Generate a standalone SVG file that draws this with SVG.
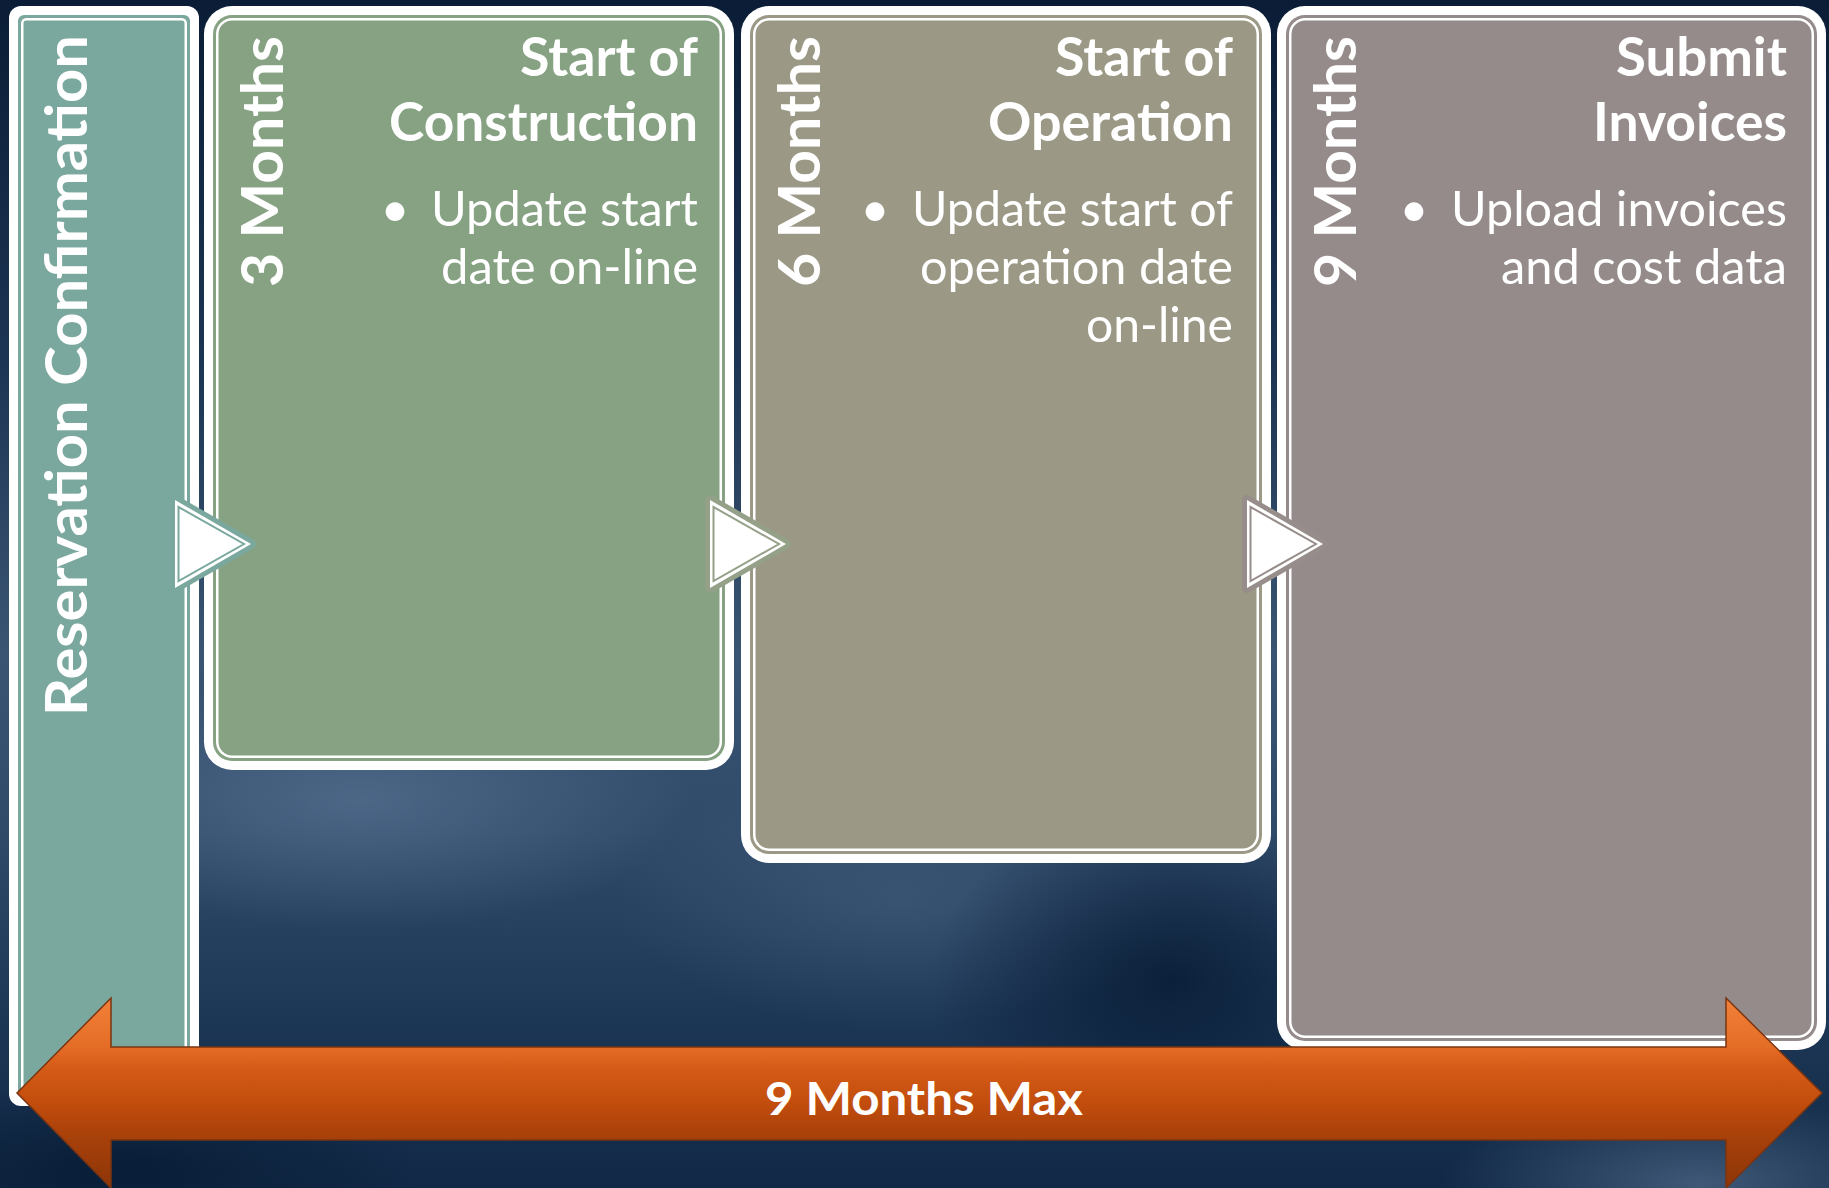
<svg xmlns="http://www.w3.org/2000/svg" width="1829" height="1188" viewBox="0 0 1829 1188">
<defs>
<style>
.vt{font-family:Lato,"Open Sans",sans-serif;font-weight:700;font-size:58px;fill:#fff}
.tt{font-family:Lato,"Open Sans",sans-serif;font-weight:700;font-size:53px;fill:#fff;text-anchor:end}
.bt{font-family:Lato,"Open Sans",sans-serif;font-weight:400;font-size:48px;fill:#fff;text-anchor:end}
.bu{font-family:Lato,"Open Sans",sans-serif;font-weight:400;font-size:50px;fill:#fff;text-anchor:middle}
.mt{font-family:Lato,"Open Sans",sans-serif;font-weight:700;font-size:46px;fill:#fff;text-anchor:middle}
.outer{fill:#fff}
.line{fill:none;stroke:#fff;stroke-width:2.5}
.tri{fill:#fff;stroke-width:10;stroke-linejoin:round}
.triin{fill:none;stroke-width:2}
</style>
<linearGradient id="bg" x1="0" y1="0" x2="0" y2="1">
<stop offset="0" stop-color="#0b1d36"/>
<stop offset="0.3" stop-color="#1c3453"/>
<stop offset="0.55" stop-color="#3a5573"/>
<stop offset="0.7" stop-color="#304b6a"/>
<stop offset="0.85" stop-color="#1d3756"/>
<stop offset="1" stop-color="#112946"/>
</linearGradient>
<radialGradient id="lite1" cx="0.5" cy="0.5" r="0.5"><stop offset="0" stop-color="#5d7898" stop-opacity="0.6"/><stop offset="1" stop-color="#5d7898" stop-opacity="0"/></radialGradient>
<radialGradient id="lite2" cx="0.5" cy="0.5" r="0.5"><stop offset="0" stop-color="#5d7898" stop-opacity="0.3"/><stop offset="1" stop-color="#5d7898" stop-opacity="0"/></radialGradient>
<radialGradient id="dark1" cx="0.5" cy="0.5" r="0.5"><stop offset="0" stop-color="#061a33" stop-opacity="0.8"/><stop offset="1" stop-color="#061a33" stop-opacity="0"/></radialGradient>
<linearGradient id="org" gradientUnits="userSpaceOnUse" x1="0" y1="998" x2="0" y2="1188">
<stop offset="0" stop-color="#f28139"/>
<stop offset="0.26" stop-color="#e46d26"/>
<stop offset="0.36" stop-color="#d65c18"/>
<stop offset="0.55" stop-color="#c24d0d"/>
<stop offset="0.72" stop-color="#a9410a"/>
<stop offset="1" stop-color="#8c3508"/>
</linearGradient>
</defs>
<g id="background">
<rect x="0" y="0" width="1829" height="1188" fill="url(#bg)"/>
<ellipse cx="360" cy="800" rx="330" ry="130" fill="url(#lite1)"/>
<ellipse cx="900" cy="900" rx="280" ry="130" fill="url(#lite2)"/>
<ellipse cx="1170" cy="980" rx="240" ry="170" fill="url(#dark1)"/>
<ellipse cx="1700" cy="1185" rx="260" ry="90" fill="url(#lite1)"/>
<ellipse cx="120" cy="1170" rx="300" ry="90" fill="url(#dark1)"/>
</g>
<g id="node-reservation">
<rect class="outer" x="9" y="6" width="190" height="1100" rx="12"/>
<rect x="18" y="15" width="172" height="1082" rx="6" fill="#7ba89e"/>
<rect class="line" x="22.25" y="19.25" width="163.5" height="1073.5" rx="4"/>
<text class="vt" transform="translate(87,716) rotate(-90)" textLength="681" lengthAdjust="spacingAndGlyphs">Reservation Confirmation</text>
</g>
<g id="node-construction">
<rect class="outer" x="204" y="6" width="530" height="764" rx="28"/>
<rect x="213" y="15" width="512" height="746" rx="19" fill="#86a283"/>
<rect class="line" x="217.25" y="19.25" width="503.5" height="737.5" rx="15"/>
<text class="vt" transform="translate(283,287) rotate(-90)" textLength="251" lengthAdjust="spacingAndGlyphs">3 Months</text>
<text class="tt" x="698" y="76" textLength="178" lengthAdjust="spacingAndGlyphs">Start of</text>
<text class="tt" x="698" y="141" textLength="309" lengthAdjust="spacingAndGlyphs">Construction</text>
<text class="bu" x="395" y="227">•</text>
<text class="bt" x="698" y="226" textLength="267" lengthAdjust="spacingAndGlyphs">Update start</text>
<text class="bt" x="698" y="284" textLength="257" lengthAdjust="spacingAndGlyphs">date on-line</text>
</g>
<g id="node-operation">
<rect class="outer" x="741" y="6" width="530" height="857" rx="28"/>
<rect x="750" y="15" width="512" height="839" rx="19" fill="#9b9985"/>
<rect class="line" x="754.25" y="19.25" width="503.5" height="830.5" rx="15"/>
<text class="vt" transform="translate(820,287) rotate(-90)" textLength="251" lengthAdjust="spacingAndGlyphs">6 Months</text>
<text class="tt" x="1233" y="76" textLength="178" lengthAdjust="spacingAndGlyphs">Start of</text>
<text class="tt" x="1233" y="141" textLength="245" lengthAdjust="spacingAndGlyphs">Operation</text>
<text class="bu" x="875" y="227">•</text>
<text class="bt" x="1233" y="226" textLength="321" lengthAdjust="spacingAndGlyphs">Update start of</text>
<text class="bt" x="1233" y="284" textLength="313" lengthAdjust="spacingAndGlyphs">operation date</text>
<text class="bt" x="1233" y="342" textLength="147" lengthAdjust="spacingAndGlyphs">on-line</text>
</g>
<g id="node-invoices">
<rect class="outer" x="1277" y="6" width="549" height="1044" rx="28"/>
<rect x="1286" y="15" width="531" height="1026" rx="19" fill="#958b8a"/>
<rect class="line" x="1290.25" y="19.25" width="522.5" height="1017.5" rx="15"/>
<text class="vt" transform="translate(1356,287) rotate(-90)" textLength="251" lengthAdjust="spacingAndGlyphs">9 Months</text>
<text class="tt" x="1787" y="76" textLength="171" lengthAdjust="spacingAndGlyphs">Submit</text>
<text class="tt" x="1787" y="141" textLength="194" lengthAdjust="spacingAndGlyphs">Invoices</text>
<text class="bu" x="1414" y="227">•</text>
<text class="bt" x="1787" y="226" textLength="336" lengthAdjust="spacingAndGlyphs">Upload invoices</text>
<text class="bt" x="1787" y="284" textLength="286" lengthAdjust="spacingAndGlyphs">and cost data</text>
</g>
<g id="connectors">
<polygon class="tri" stroke="#7ba89e" points="175,500 175,588 251,544"/>
<polygon fill="#fff" points="175,500 175,588 251,544"/>
<polygon class="triin" stroke="#7ba89e" points="178.5,507 178.5,581 244,544"/>
<polygon class="tri" stroke="#94a088" points="710,500 710,588 786,544"/>
<polygon fill="#fff" points="710,500 710,588 786,544"/>
<polygon class="triin" stroke="#94a088" points="713.5,507 713.5,581 779,544"/>
<polygon class="tri" stroke="#978e8c" points="1247,500 1247,588 1323,544"/>
<polygon fill="#fff" points="1247,500 1247,588 1323,544"/>
<polygon class="triin" stroke="#978e8c" points="1250.5,507 1250.5,581 1316,544"/>
</g>
<g id="timeline">
<path d="M17,1093 L111,998 L111,1047 L1726,1047 L1726,998 L1822,1093 L1726,1188 L1726,1140 L111,1140 L111,1188 Z" fill="url(#org)" stroke="#7a3410" stroke-width="1.5" stroke-linejoin="miter"/>
<text class="mt" x="924" y="1115" textLength="318" lengthAdjust="spacingAndGlyphs">9 Months Max</text>
</g>
</svg>
